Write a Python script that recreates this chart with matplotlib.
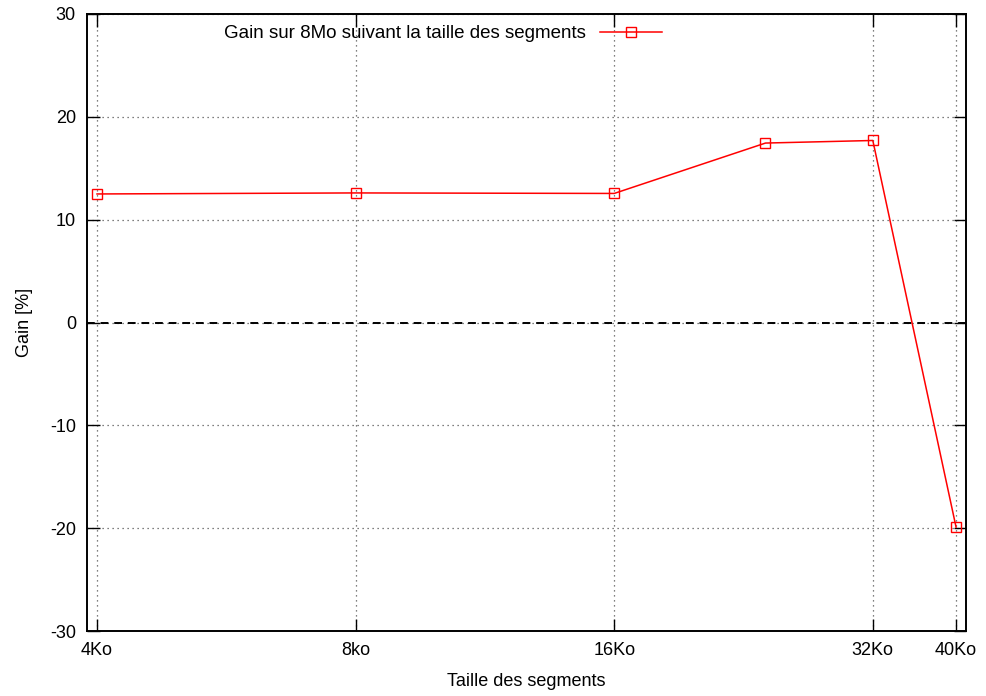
import numpy as np
from matplotlib import pyplot as plt

sizes = [4, 8, 16, 24, 32, 40]
gains = [12.5, 12.6, 12.55, 17.45, 17.7, -19.9]

tick_pos = [4, 8, 16, 32, 40]
tick_labels = ['4Ko', '8ko', '16Ko', '32Ko', '40Ko']
y_ticks = [-30, -20, -10, 0, 10, 20, 30]

plt.rcParams['font.family'] = ['Liberation Sans', 'DejaVu Sans']
plt.rcParams['axes.unicode_minus'] = False

fig = plt.figure(figsize=(9.86, 6.96), dpi=100)
ax = fig.add_axes([87 / 986, 1 - 631 / 696, 879 / 986, 617 / 696])

ax.set_xscale('log', base=2)
ax.set_xlim(3.894, 41.08)
ax.set_ylim(-30, 30)

ax.set_xticks(tick_pos)
ax.set_xticklabels(tick_labels)
ax.minorticks_off()
ax.set_yticks(y_ticks)

ax.grid(True, color='#555555', linestyle=(0, (1, 3)), linewidth=0.9)
ax.axhline(0, color='black', linestyle=(0, (4, 3)), linewidth=1.4, zorder=2)

ax.plot(sizes, gains, color='red', linewidth=1.1, marker='s', markersize=7,
        markerfacecolor='none', markeredgecolor='red', markeredgewidth=1.0,
        label='Gain sur 8Mo suivant la taille des segments', zorder=3)

for s in ax.spines.values():
    s.set_linewidth(1.4)
ax.tick_params(direction='in', length=9, width=1.0, top=True, right=True,
               labelsize=13, pad=8)

ax.set_xlabel('Taille des segments', fontsize=13, labelpad=10)
ax.set_ylabel('Gain [%]', fontsize=13, labelpad=12)

leg = ax.legend(loc='upper center', bbox_to_anchor=(0.405, 1.0), frameon=False,
                markerfirst=False, fontsize=13.5, handlelength=3.3,
                handletextpad=0.8, borderaxespad=0.2)

plt.savefig('out.png', dpi=100)
